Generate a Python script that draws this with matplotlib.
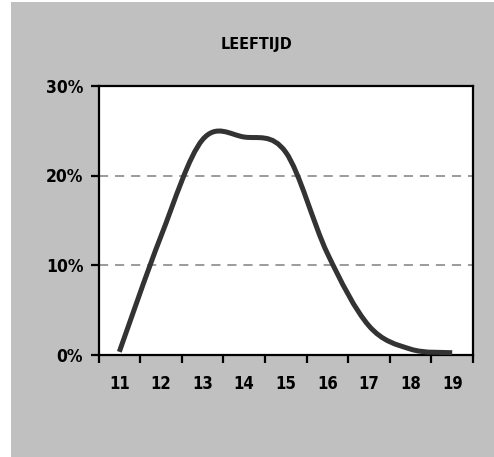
import matplotlib
matplotlib.use("Agg")
import matplotlib.pyplot as plt
from matplotlib.path import Path
from matplotlib.patches import PathPatch, Rectangle
from matplotlib.ticker import FuncFormatter

# data
ages = [11, 12, 13, 14, 15, 16, 17, 18, 19]
share = [0.3, 13.2, 24.0, 24.3, 22.6, 11.3, 3.2, 0.6, 0.2]
y_ticks = [0, 10, 20, 30]
title = "LEEFTIJD"

font = {"family": "DejaVu Sans", "stretch": "condensed", "weight": "bold"}

fig = plt.figure(figsize=(4.94, 4.57), dpi=100)
fig.patch.set_facecolor("white")
fig.add_artist(Rectangle((11 / 494, 0), 1, 1 - 2 / 457, transform=fig.transFigure,
                         facecolor="#c0c0c0", edgecolor="none", zorder=-10))

ax = fig.add_axes([98.5 / 494, 1 - 354.5 / 457, (473 - 98.5) / 494, (354.5 - 86) / 457])
ax.set_facecolor("white")

# category positions (0..8), smoothed line like Excel (Catmull-Rom -> bezier)
xs = list(range(len(ages)))
verts = [(xs[0], share[0])]
codes = [Path.MOVETO]
n = len(xs)
for i in range(n - 1):
    p0 = (xs[i - 1], share[i - 1]) if i > 0 else (xs[i], share[i])
    p1 = (xs[i], share[i])
    p2 = (xs[i + 1], share[i + 1])
    p3 = (xs[i + 2], share[i + 2]) if i + 2 < n else p2
    c1 = (p1[0] + (p2[0] - p0[0]) / 6, p1[1] + (p2[1] - p0[1]) / 6)
    c2 = (p2[0] - (p3[0] - p1[0]) / 6, p2[1] - (p3[1] - p1[1]) / 6)
    verts += [c1, c2, p2]
    codes += [Path.CURVE4] * 3
ax.add_patch(PathPatch(Path(verts, codes), facecolor="none", edgecolor="#333333",
                       lw=3.6, capstyle="butt", zorder=3))

ax.set_xlim(-0.5, n - 0.5)
ax.set_ylim(0, 30)

for v in y_ticks[1:-1]:
    ax.axhline(v, color="#808080", lw=1.1, ls=(0, (6, 4.5)), zorder=1)

ax.set_yticks(y_ticks)
ax.yaxis.set_major_formatter(FuncFormatter(lambda v, p: f"{v:.0f}%"))
ax.set_xticks([x - 0.5 for x in xs] + [n - 0.5])
ax.set_xticklabels([])
ax.set_xticks(xs, minor=True)
ax.set_xticklabels([str(a) for a in ages], minor=True, **font, fontsize=12)
ax.tick_params(axis="x", which="minor", length=0, pad=15)
ax.tick_params(axis="x", which="major", length=6, width=1.6, direction="out")
ax.tick_params(axis="y", length=6, width=1.6, direction="out", pad=5)
for lab in ax.get_yticklabels():
    lab.set_fontfamily("DejaVu Sans")
    lab.set_fontstretch("condensed")
    lab.set_fontweight("bold")
    lab.set_fontsize(12.5)

for s in ax.spines.values():
    s.set_linewidth(1.6)
    s.set_color("black")

fig.text(256 / 494, 1 - 45 / 457, title, ha="center", va="center", fontsize=11.5, **font)

fig.savefig("out.png", dpi=100)
